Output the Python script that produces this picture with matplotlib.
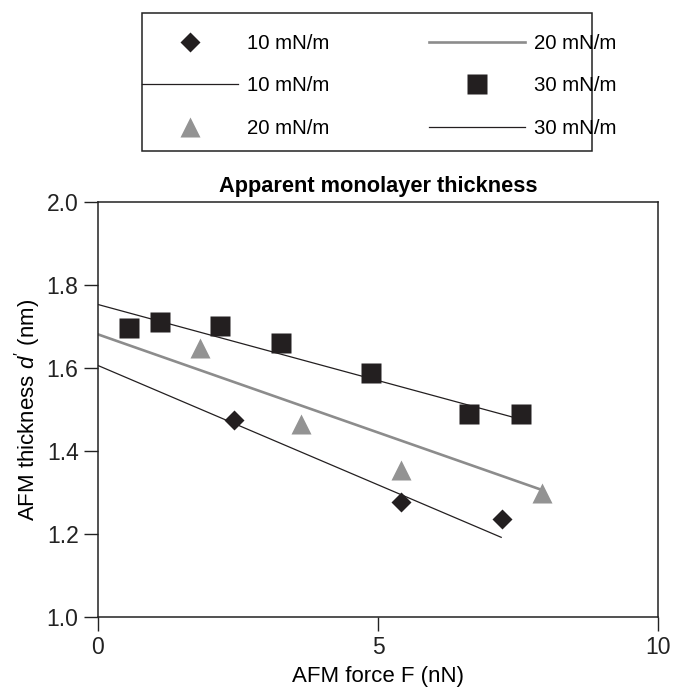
import matplotlib
matplotlib.use("Agg")
import matplotlib.pyplot as plt
from matplotlib.lines import Line2D
from matplotlib.patches import Rectangle

plt.rcParams['font.family'] = ['Liberation Sans', 'DejaVu Sans']
plt.rcParams['mathtext.fontset'] = 'custom'
plt.rcParams['mathtext.rm'] = 'Liberation Sans'
plt.rcParams['mathtext.it'] = 'Liberation Sans:italic'

# measured points (AFM force in nN, thickness in nm)
force_10 = [2.42, 5.41, 7.21]
thick_10 = [1.475, 1.276, 1.236]
force_20 = [1.82, 3.62, 5.41, 7.93]
thick_20 = [1.647, 1.465, 1.354, 1.298]
force_30 = [0.56, 1.10, 2.18, 3.26, 4.87, 6.63, 7.56]
thick_30 = [1.696, 1.712, 1.702, 1.661, 1.589, 1.488, 1.488]

# linear fit lines (end points)
fit_10_x = [0, 7.2]
fit_10_y = [1.606, 1.192]
fit_20_x = [0, 7.93]
fit_20_y = [1.681, 1.306]
fit_30_x = [0, 7.56]
fit_30_y = [1.753, 1.476]

x_ticks = [0, 5, 10]
y_ticks = [1.0, 1.2, 1.4, 1.6, 1.8, 2.0]

dark = '#231f20'
grey = '#939393'
W, H = 677, 690

fig = plt.figure(figsize=(W / 100, H / 100), dpi=100)
ax = fig.add_axes([98 / W, 1 - 617 / H, 560 / W, 415 / H])

ax.plot(fit_10_x, fit_10_y, color=dark, lw=0.9)
ax.plot(fit_20_x, fit_20_y, color='#8c8c8c', lw=1.9)
ax.plot(fit_30_x, fit_30_y, color=dark, lw=0.9)
ax.plot(force_10, thick_10, 'D', color=dark, ms=10, mec='none')
ax.plot(force_20, thick_20, '^', color=grey, ms=15, mec='none')
ax.plot(force_30, thick_30, 's', color=dark, ms=14.4, mec='none')

ax.set_xlim(0, 10)
ax.set_ylim(1.0, 2.0)
ax.set_xticks(x_ticks)
ax.set_xticklabels([str(t) for t in x_ticks])
ax.set_yticks(y_ticks)
ax.set_yticklabels(['%.1f' % t for t in y_ticks])
ax.tick_params(direction='out', length=10, width=1, labelsize=16.5,
               colors='#222222', pad=4)
for s in ax.spines.values():
    s.set_linewidth(1.1)
    s.set_color('#222222')

ax.set_xlabel('AFM force F (nN)', fontsize=16, labelpad=5)
ax.set_ylabel("AFM thickness $d'$ (nm)", fontsize=16, labelpad=3)
ax.set_title('Apparent monolayer thickness', fontsize=15.7, fontweight='bold', pad=7)

# legend (frame drawn separately)
handles = [
    Line2D([], [], ls='none', marker='D', color=dark, ms=10, mec='none'),
    Line2D([], [], color=dark, lw=0.9),
    Line2D([], [], ls='none', marker='^', color=grey, ms=15, mec='none'),
    Line2D([], [], color='#8c8c8c', lw=1.9),
    Line2D([], [], ls='none', marker='s', color=dark, ms=14.4, mec='none'),
    Line2D([], [], color=dark, lw=0.9),
]
labels = ['10 mN/m', '10 mN/m', '20 mN/m', '20 mN/m', '30 mN/m', '30 mN/m']
fig.legend(handles, labels, ncol=2, loc='upper left',
           bbox_to_anchor=(142 / W, 1 - 34 / H), frameon=False,
           borderpad=0, borderaxespad=0, fontsize=14.7, handlelength=4.7,
           handletextpad=0.45, columnspacing=4.85, labelspacing=1.15,
           numpoints=1)
fig.patches.append(Rectangle((142 / W, 1 - 151 / H), 450 / W, 138 / H,
                             transform=fig.transFigure, fill=False,
                             edgecolor='#222222', lw=1.1))

fig.savefig('out.png', dpi=100)
